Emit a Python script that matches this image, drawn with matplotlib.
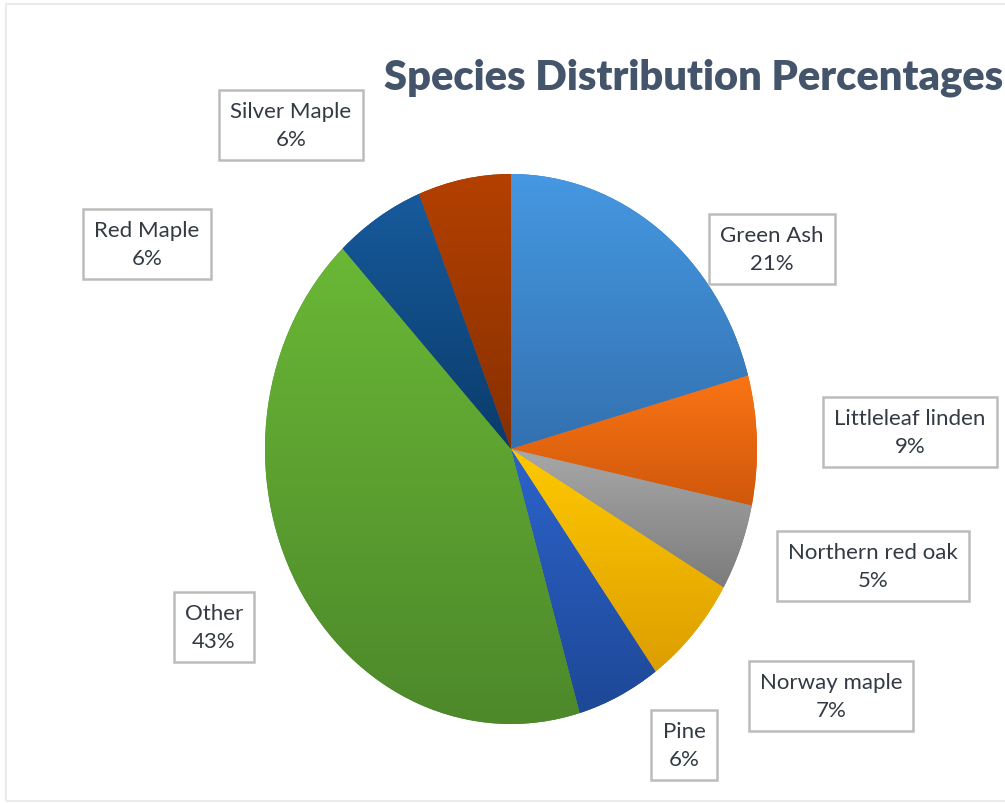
import numpy as np
import matplotlib
matplotlib.use("Agg")
import matplotlib.pyplot as plt
from matplotlib.colors import LinearSegmentedColormap
from matplotlib.patches import Rectangle

# slice shares (clockwise from 12 o'clock)
species = ["Green Ash", "Littleleaf linden", "Northern red oak", "Norway maple",
           "Pine", "Other", "Red Maple", "Silver Maple"]
shares = [20.7, 7.6, 5.1, 6.6, 5.5, 42.5, 5.9, 6.1]
# percentages printed on the data labels
pct_labels = [21, 9, 5, 7, 6, 43, 6, 6]

# light (top) / dark (bottom) gradient colour for each slice
light_cols = ["#4598e2", "#fb7414", "#a8a8a8", "#ffc900", "#2c63cb", "#6ab836", "#175a9c", "#b44000"]
dark_cols = ["#3371b0", "#cf580b", "#7c7c7c", "#dc9e00", "#1e4897", "#4d882a", "#0a3c6b", "#873000"]

# label box centres in figure pixels (layout only)
label_pos = [(772, 250), (910, 433), (873, 567), (831, 697),
             (684, 746), (214, 628), (147, 245), (291, 126)]

W, H = 1005, 804
fig = plt.figure(figsize=(W / 100, H / 100), dpi=100)
fig.patch.set_facecolor("white")

# faint chart-area border
fig.patches.append(Rectangle((6 / W, 1 - 802 / H), 1.2, (802 - 5) / H,
                             transform=fig.transFigure, fill=False,
                             edgecolor="#e9ecec", linewidth=1.5))

# pie axes covers the (slightly elliptical) pie bounding box
ax = fig.add_axes([265 / W, 1 - 725 / H, 492 / W, 550 / H])
wedges, _ = ax.pie(shares, startangle=90, counterclock=False, radius=1,
                   wedgeprops=dict(linewidth=0))

for w, c1, c2 in zip(wedges, light_cols, dark_cols):
    w.set_facecolor(c2)
    angs = np.radians(np.linspace(w.theta1, w.theta2, 200))
    ys = np.concatenate([[0], np.sin(angs)])
    cmap = LinearSegmentedColormap.from_list("g", [c1, c2])
    grad = np.linspace(0, 1, 256).reshape(-1, 1)
    im = ax.imshow(grad, cmap=cmap, extent=[-1, 1, ys.min(), ys.max()],
                   aspect="auto", origin="upper", zorder=2)
    im.set_clip_path(w)

ax.set_aspect("auto")
ax.set_xlim(-1, 1)
ax.set_ylim(-1, 1)
ax.axis("off")

font = "Lato"
fig.text(694 / W, 1 - 78 / H, "Species Distribution Percentages", ha="center", va="center",
         fontsize=30, fontweight="heavy", color="#44546a", family=font)

for name, pct, (px, py) in zip(species, pct_labels, label_pos):
    fig.text(px / W, 1 - py / H, f"{name}\n{pct}%", ha="center", va="center",
             fontsize=16, color="#333a44", family=font, linespacing=1.5,
             bbox=dict(boxstyle="square,pad=0.5", facecolor="white",
                       edgecolor="#bcbcbc", linewidth=1.8))

fig.savefig("out.png", dpi=100)
